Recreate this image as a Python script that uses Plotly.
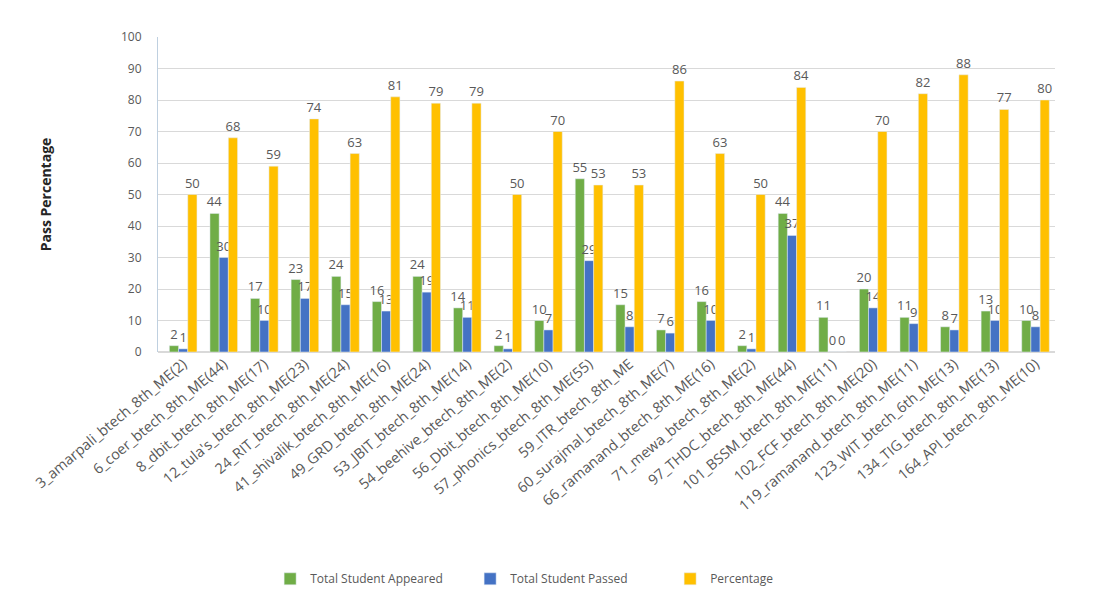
import plotly.graph_objects as go

categories = [
    "3_amarpali_btech_8th_ME(2)", "6_coer_btech_8th_ME(44)", "8_dbit_btech_8th_ME(17)",
    "12_tula's_btech_8th_ME(23)", "24_RIT_btech_8th_ME(24)", "41_shivalik_btech_8th_ME(16)",
    "49_GRD_btech_8th_ME(24)", "53_JBIT_btech_8th_ME(14)", "54_beehive_btech_8th_ME(2)",
    "56_Dbit_btech_8th_ME(10)", "57_phonics_btech_8th_ME(55)", "59_ITR_btech_8th_ME",
    "60_surajmal_btech_8th_ME(7)", "66_ramanand_btech_8th_ME(16)", "71_mewa_btech_8th_ME(2)",
    "97_THDC_btech_8th_ME(44)", "101_BSSM_btech_8th_ME(11)", "102_FCF_btech_8th_ME(20)",
    "119_ramanand_btech_8th_ME(11)", "123_WIT_btech_6th_ME(13)", "134_TIG_btech_8th_ME(13)",
    "164_API_btech_8th_ME(10)",
]
appeared = [2, 44, 17, 23, 24, 16, 24, 14, 2, 10, 55, 15, 7, 16, 2, 44, 11, 20, 11, 8, 13, 10]
passed = [1, 30, 10, 17, 15, 13, 19, 11, 1, 7, 29, 8, 6, 10, 1, 37, 0, 14, 9, 7, 10, 8]
percentage = [50, 68, 59, 74, 63, 81, 79, 79, 50, 70, 53, 53, 86, 63, 50, 84, 0, 70, 82, 88, 77, 80]

label_font = dict(family="Open Sans, Arial", size=13, color="#595959")

fig = go.Figure()
fig.add_trace(go.Bar(name="Total Student Appeared", x=categories, y=appeared,
                     marker_color="#70AD47", text=appeared, textposition="outside",
                     textfont=label_font, cliponaxis=False, constraintext="none"))
fig.add_trace(go.Bar(name="Total Student Passed", x=categories, y=passed,
                     marker_color="#4472C4", text=passed, textposition="outside",
                     textfont=label_font, cliponaxis=False, constraintext="none"))
fig.add_trace(go.Bar(name="Percentage", x=categories, y=percentage,
                     marker_color="#FFC000", text=percentage, textposition="outside",
                     textfont=label_font, cliponaxis=False, constraintext="none"))

fig.update_layout(
    width=1103, height=599,
    margin=dict(l=150, r=56, t=29, b=255, autoexpand=False),
    paper_bgcolor="white", plot_bgcolor="white",
    barmode="group", bargap=0.32, bargroupgap=0,
    font=dict(family="Open Sans, Arial", color="#595959"),
    legend=dict(orientation="h", x=0.125, xanchor="left", y=-0.72, yanchor="middle",
                font=dict(size=12, color="#595959"), traceorder="normal",
                entrywidth=155, entrywidthmode="pixels", itemwidth=30),
    xaxis=dict(tickangle=-40, tickfont=dict(size=14.5, color="#595959"), showgrid=False,
               showline=False, ticks="", automargin=False, range=[-0.62, 21.48]),
    yaxis=dict(range=[0, 100], dtick=10, showgrid=True, gridcolor="#D9D9D9",
               tickfont=dict(size=12, color="#595959"), zeroline=True, zerolinecolor="#D9D9D9",
               showline=True, linecolor="#BFD0E0", ticks="", ticklen=0, ticklabelstandoff=13,
               automargin=False,
               title=dict(text="<b>Pass Percentage</b>", font=dict(size=14, color="#262626"), standoff=66)),
)

fig.write_html("out.html")
